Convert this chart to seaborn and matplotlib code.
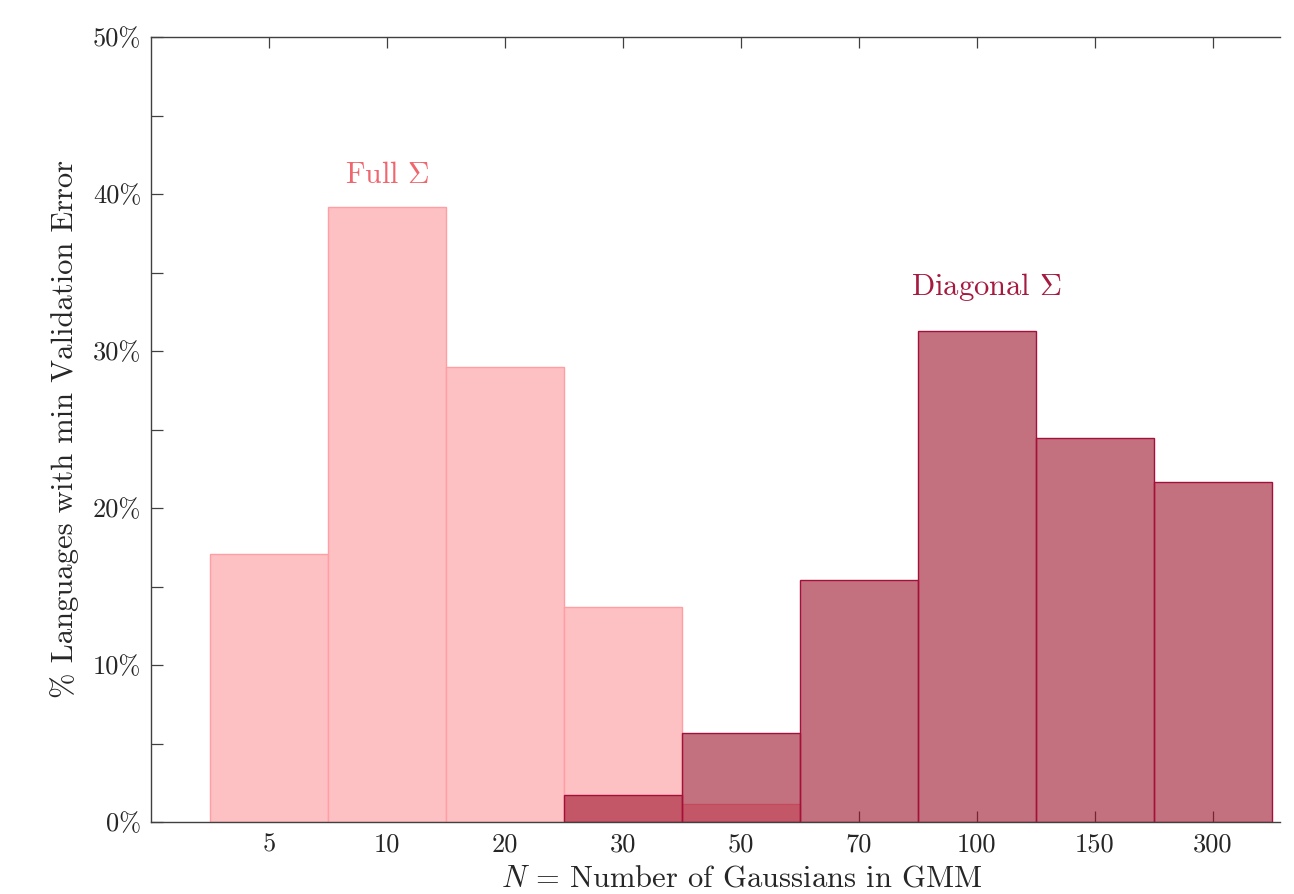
import matplotlib
matplotlib.use("Agg")
import matplotlib.pyplot as plt
import pandas as pd
import seaborn as sns
from matplotlib.ticker import FuncFormatter, MultipleLocator

# number of Gaussians (categorical x axis)
n_gaussians = ["5", "10", "20", "30", "50", "70", "100", "150", "300"]

# % of languages whose min validation error is at N, full covariance
full_cats = ["5", "10", "20", "30", "50"]
full_pct = [17.1, 39.2, 29.0, 13.7, 1.15]

# same, diagonal covariance
diag_cats = ["30", "50", "70", "100", "150", "300"]
diag_pct = [1.7, 5.7, 15.4, 31.25, 24.45, 21.65]

sns.set_theme(style="white")
plt.rcParams["font.family"] = ["cmr10", "DejaVu Serif"]
plt.rcParams["mathtext.fontset"] = "cm"
plt.rcParams["axes.formatter.use_mathtext"] = True

INK = "#262626"
FULL_FACE = "#fdc0c3"
FULL_EDGE = "#ff9ea3"
DIAG_FACE = "#9d122a"
DIAG_EDGE = "#a5103a"

full_df = pd.DataFrame({"N": full_cats, "pct": full_pct})
diag_df = pd.DataFrame({"N": diag_cats, "pct": diag_pct})

fig = plt.figure(figsize=(12.94, 8.94), dpi=100)
ax = fig.add_axes([151 / 1294, 1 - 822 / 894, (1280 - 151) / 1294, (822 - 37) / 894])

sns.barplot(data=full_df, x="N", y="pct", order=n_gaussians, width=1.0,
            color=FULL_FACE, saturation=1, edgecolor=FULL_EDGE, linewidth=1.0,
            errorbar=None, ax=ax)
sns.barplot(data=diag_df, x="N", y="pct", order=n_gaussians, width=1.0,
            color=DIAG_FACE, saturation=1, alpha=0.6, edgecolor=DIAG_EDGE,
            linewidth=1.0, errorbar=None, ax=ax)
# keep the diagonal outlines solid, only the fill is see-through
for p in ax.patches[len(full_cats):]:
    p.set_alpha(None)
    p.set_facecolor(matplotlib.colors.to_rgba(DIAG_FACE, 0.6))
    p.set_edgecolor(DIAG_EDGE)

ax.set_xlim(-1.0, 8.57)
ax.set_ylim(0, 50)
ax.yaxis.set_major_locator(MultipleLocator(10))
ax.yaxis.set_minor_locator(MultipleLocator(5))
ax.yaxis.set_major_formatter(FuncFormatter(lambda v, _: f"{v:.0f}%"))

for side in ["left", "bottom", "top"]:
    ax.spines[side].set_color("#404040")
    ax.spines[side].set_linewidth(1.0)
ax.spines["right"].set_visible(False)

ax.tick_params(axis="x", which="both", direction="in", top=True, bottom=True,
               length=8, width=0.9, color="#404040", labelsize=19,
               labelcolor=INK, pad=8)
ax.tick_params(axis="y", which="both", direction="in", left=True, right=False,
               length=8.5, width=0.9, color="#404040", labelsize=19,
               labelcolor=INK, pad=7)

ax.set_xlabel(r"$N$ = Number of Gaussians in GMM", fontsize=22, color=INK,
              va="baseline")
ax.xaxis.set_label_coords(0.5235, -0.0825)
ax.set_ylabel("% Languages with min Validation Error", fontsize=22, color=INK, labelpad=10)

ax.text(1, 41.2, r"Full $\Sigma$", color="#f0666e", fontsize=21.5,
        ha="center", va="center")
ax.text(6.08, 34.05, r"Diagonal $\Sigma$", color="#a51b40", fontsize=22,
        ha="center", va="center")

fig.savefig("out.png", dpi=100)
